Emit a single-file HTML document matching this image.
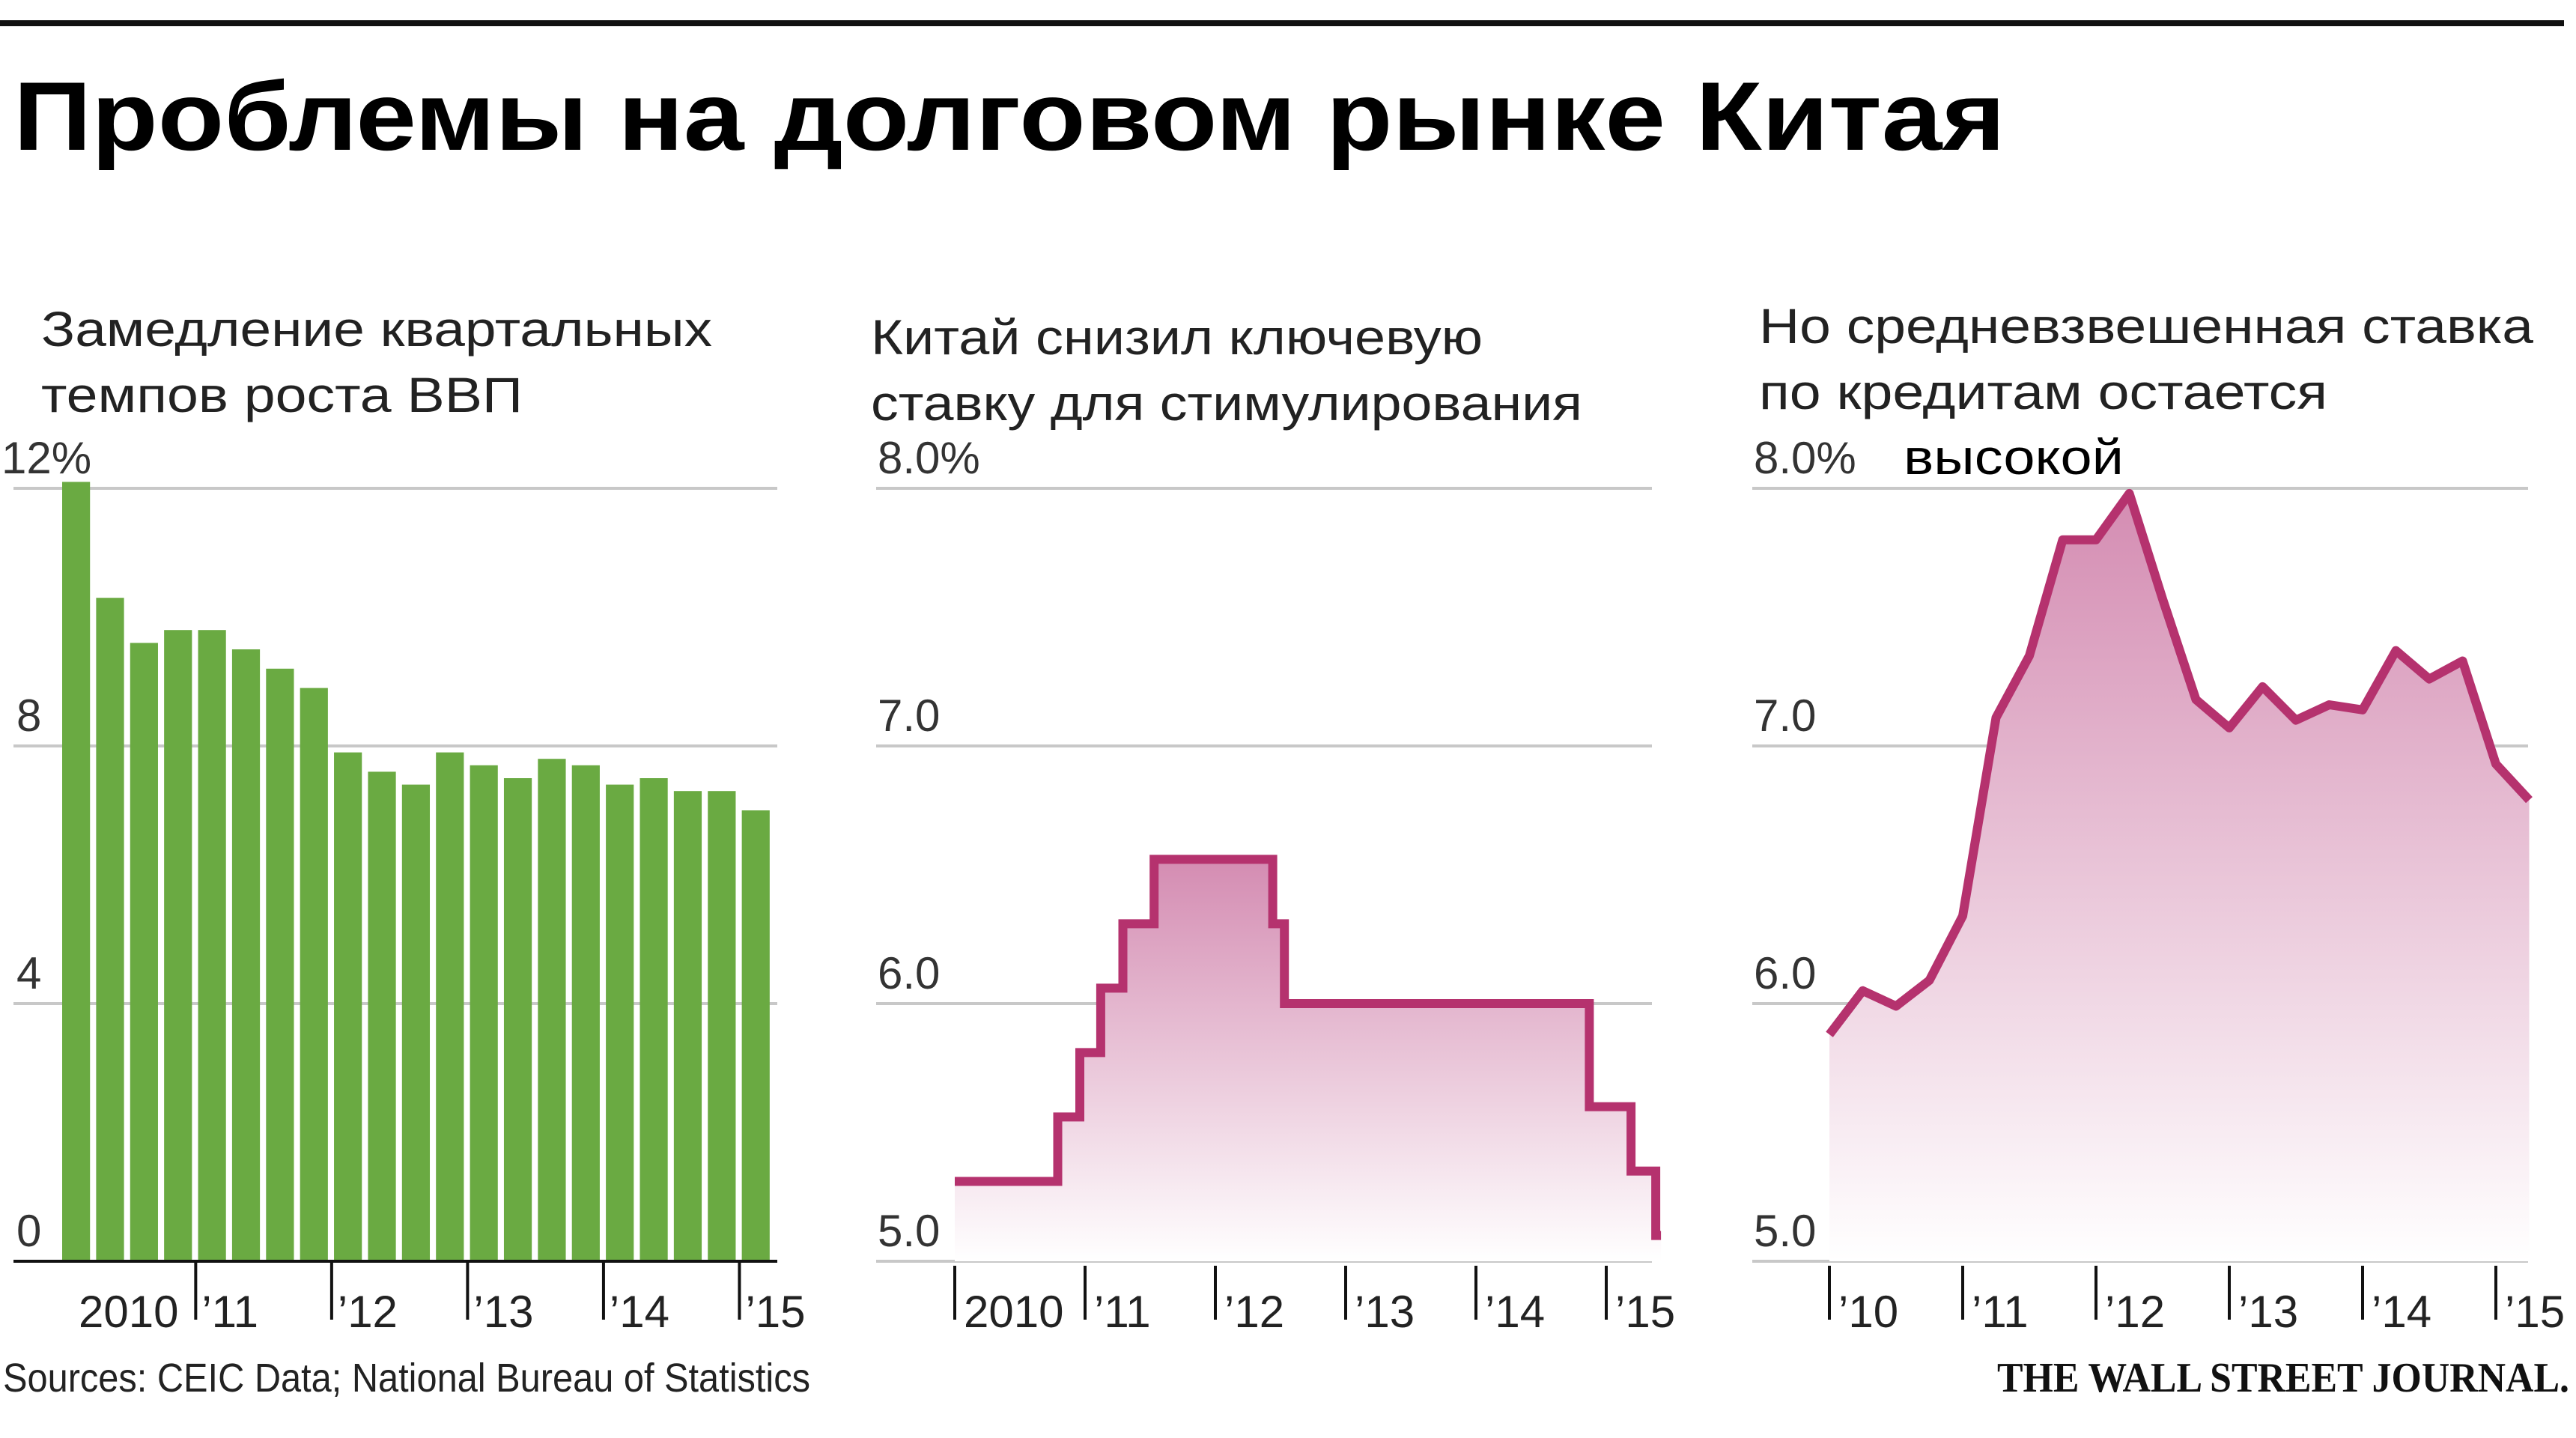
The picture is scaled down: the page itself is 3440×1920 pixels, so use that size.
<!DOCTYPE html>
<html><head><meta charset="utf-8"><style>
html,body{margin:0;padding:0;background:#fff;}
svg{display:block;}
text{font-family:"Liberation Sans","DejaVu Sans",sans-serif;}
</style></head><body>
<svg id="chart" width="3440" height="1920" viewBox="0 0 3440 1920">
<defs>
<linearGradient id="pinkGrad" x1="0" y1="0" x2="0" y2="1">
<stop offset="0" stop-color="#d48cb2"/>
<stop offset="1" stop-color="#ffffff"/>
</linearGradient>
</defs>
<rect x="0" y="27" width="3424" height="8" fill="#111"/>
<text x="18" y="200" font-size="130" font-weight="bold" fill="#000" textLength="2660" lengthAdjust="spacingAndGlyphs">Проблемы на долговом рынке Китая</text>

<text x="55" y="462" font-size="66" fill="#222" textLength="896" lengthAdjust="spacingAndGlyphs">Замедление квартальных</text>
<text x="55" y="550" font-size="66" fill="#222" textLength="643" lengthAdjust="spacingAndGlyphs">темпов роста ВВП</text>
<text x="1163" y="473" font-size="66" fill="#222" textLength="817" lengthAdjust="spacingAndGlyphs">Китай снизил ключевую</text>
<text x="1163" y="561" font-size="66" fill="#222" textLength="950" lengthAdjust="spacingAndGlyphs">ставку для стимулирования</text>
<text x="2349" y="458" font-size="66" fill="#222" textLength="1034" lengthAdjust="spacingAndGlyphs">Но средневзвешенная ставка</text>
<text x="2349" y="546" font-size="66" fill="#222" textLength="759" lengthAdjust="spacingAndGlyphs">по кредитам остается</text>
<text x="2542" y="633" font-size="66" fill="#000" textLength="294" lengthAdjust="spacingAndGlyphs">высокой</text>

<g id="c1"></g>
<g id="c2"></g>
<g id="c3"></g>

<text x="4" y="1858" font-size="54" fill="#222" textLength="1078" lengthAdjust="spacingAndGlyphs">Sources: CEIC Data; National Bureau of Statistics</text>
<text x="2667" y="1858" font-size="56" font-weight="bold" fill="#111" style="font-family:'Liberation Serif',serif" textLength="764" lengthAdjust="spacingAndGlyphs">THE WALL STREET JOURNAL.</text>
</svg>
<script>
// Chart 1 data
const gdpValues = [12.1,10.3,9.6,9.8,9.8,9.5,9.2,8.9,7.9,7.6,7.4,7.9,7.7,7.5,7.8,7.7,7.4,7.5,7.3,7.3,7.0];
const gdpTicks = [0,4,8,12];
const gdpTickLabels = ["0","4","8","12%"];
const gdpYearLabels = ["2010","’11","’12","’13","’14","’15"];
// Chart 2 data (step series: fractional year, rate)
const keyRateDates = [2010.0,2010.79,2010.96,2011.12,2011.29,2011.53,2012.44,2012.53,2014.87,2015.19,2015.38,2015.42];
const keyRateValues = [5.31,5.56,5.81,6.06,6.31,6.56,6.31,6.00,5.60,5.35,5.10,5.10];
// Chart 3 data (quarterly)
const lendStart = 2010.0;
const lendValues = [5.88,6.05,5.99,6.09,6.34,7.11,7.35,7.80,7.80,7.98,7.57,7.18,7.07,7.23,7.10,7.16,7.14,7.37,7.26,7.33,6.93,6.79];
const rateTicks = [5,6,7,8];
const rateTickLabels = ["5.0","6.0","7.0","8.0%"];
const yearTicks = [2010,2011,2012,2013,2014,2015];
const c3YearLabels = ["’10","’11","’12","’13","’14","’15"];

const NS="http://www.w3.org/2000/svg";
function mk(parent,tag,attrs){const e=document.createElementNS(NS,tag);for(const k in attrs)e.setAttribute(k,attrs[k]);parent.appendChild(e);return e;}
const Y0=1684, Y1=652;

// ---- Chart 1
(function(){
 const g=document.getElementById('c1');
 const y=v=>Y0-(v-0)/12*(Y0-Y1);
 gdpTicks.forEach((t,i)=>{
  if(t>0){const l=mk(g,'line',{x1:18,x2:1038,y1:y(t),y2:y(t),stroke:'#c8c8c8','stroke-width':4});
  
  }
  const tx=mk(g,'text',{x:t===12?2:22,y:y(t)-20,'font-size':60,fill:'#333'});tx.textContent=gdpTickLabels[i];
  
  
 });
 const x0=83, step=(1036-83)/gdpValues.length, bw=step*0.82;
 gdpValues.forEach((v,i)=>{
  const r=mk(g,'rect',{x:x0+i*step,y:y(v),width:bw,height:Y0-y(v),fill:'#6aaa42'});
  
  
 });
 const base=mk(g,'line',{x1:18,x2:1038,y1:Y0,y2:Y0,stroke:'#111','stroke-width':4});
 
 
 gdpYearLabels.forEach((lab,i)=>{
  const tx=x0+(3+4*(i-1)+0.93)*step;
  if(i>0){const l=mk(g,'line',{x1:tx,x2:tx,y1:Y0,y2:Y0+78,stroke:'#111','stroke-width':4});
   
   }
  const t=mk(g,'text',{x:i===0?105:tx+8,y:1772,'font-size':60,fill:'#222'});t.textContent=lab;
  
  
 });
})();

function rateAxes(g,xl,xr,xYear,labels,prefix){
 const y=v=>Y0-(v-5)/3*(Y0-Y1);
 rateTicks.forEach((t,i)=>{
  const l=mk(g,'line',{x1:xl,x2:xr,y1:y(t),y2:y(t),stroke:'#c8c8c8','stroke-width':4});
  
  
  const tx=mk(g,'text',{x:xl+2,y:y(t)-20,'font-size':60,fill:'#333'});tx.textContent=rateTickLabels[i];
  
  
 });
 yearTicks.forEach((yr,i)=>{
  const x=xYear(yr);
  const l=mk(g,'line',{x1:x,x2:x,y1:Y0+6,y2:Y0+78,stroke:'#111','stroke-width':4});
  
  
  const t=mk(g,'text',{x:x+12,y:1772,'font-size':60,fill:'#222'});t.textContent=labels[i];
  
  
 });
 return y;
}

// ---- Chart 2
(function(){
 const g=document.getElementById('c2');
 const xYear=yr=>1275+(yr-2010)*174;
 const y=rateAxes(g,1170,2206,xYear,["2010","’11","’12","’13","’14","’15"],'keyrate');
 let pts=[];
 for(let i=0;i<keyRateDates.length;i++){
  const x=xYear(keyRateDates[i]);
  if(i>0)pts.push([x,y(keyRateValues[i-1])]);
  pts.push([x,y(keyRateValues[i])]);
 }
 const d='M'+pts.map(p=>p[0].toFixed(1)+','+p[1].toFixed(1)).join(' L');
 const area=mk(g,'path',{d:d+` L${pts[pts.length-1][0]},${Y0} L${pts[0][0]},${Y0} Z`,fill:'url(#pinkGrad)'});
 
 
 const ln=mk(g,'path',{d:d,fill:'none',stroke:'#b5326e','stroke-width':12,'stroke-linejoin':'miter'});
 
 
})();

// ---- Chart 3
(function(){
 const g=document.getElementById('c3');
 const xYear=yr=>2443+(yr-2010)*178;
 const y=rateAxes(g,2340,3376,xYear,c3YearLabels,'lending');
 const pts=lendValues.map((v,i)=>[xYear(lendStart+i*0.25),y(v)]);
 const d='M'+pts.map(p=>p[0].toFixed(1)+','+p[1].toFixed(1)).join(' L');
 const area=mk(g,'path',{d:d+` L${pts[pts.length-1][0]},${Y0} L${pts[0][0]},${Y0} Z`,fill:'url(#pinkGrad)'});
 
 
 const ln=mk(g,'path',{d:d,fill:'none',stroke:'#b5326e','stroke-width':12,'stroke-linejoin':'round'});
 
 
})();
</script>
</body></html>
